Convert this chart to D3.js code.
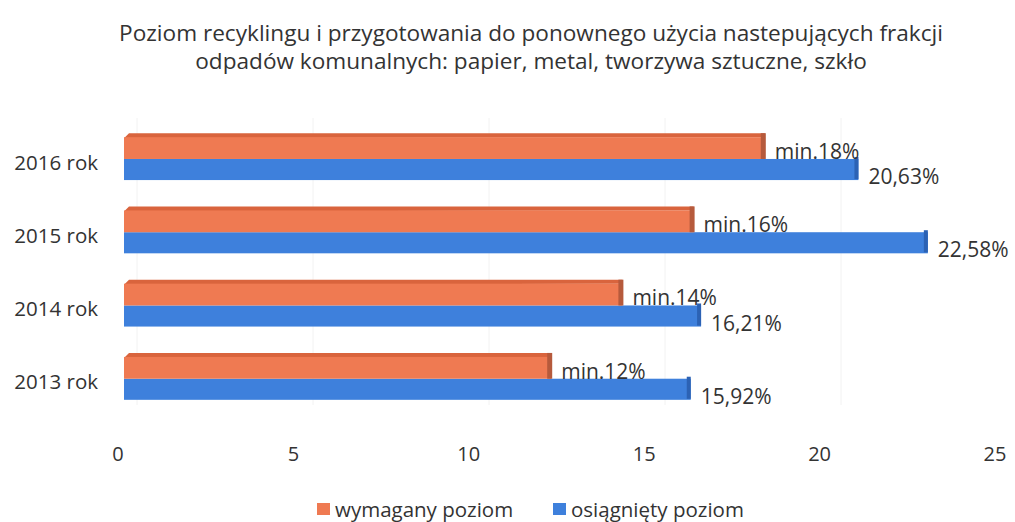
<!DOCTYPE html>
<html><head><meta charset="utf-8">
<script src="https://cdn.jsdelivr.net/npm/d3@7"></script>
<style>body{margin:0;background:#fff}svg{display:block}text{font-family:"Open Sans",Lato,sans-serif;fill:#333}</style>
</head><body>
<svg id="c" width="1015" height="522"></svg>
<script>
const categories = ["2016 rok","2015 rok","2014 rok","2013 rok"];
const required = [18, 16, 14, 12];
const achieved = [20.63, 22.58, 16.21, 15.92];
const requiredLabels = ["min.18%","min.16%","min.14%","min.12%"];
const achievedLabels = ["20,63%","22,58%","16,21%","15,92%"];
const ticks = [0,5,10,15,20,25];
const seriesNames = ["wymagany poziom","osiągnięty poziom"];
const titleLines = ["Poziom recyklingu i przygotowania do ponownego użycia nastepujących frakcji","odpadów komunalnych: papier, metal, tworzywa sztuczne, szkło"];

const colors = {req:"#EF7A52", reqTop:"#D9643D", reqEnd:"#B65A3C", ach:"#3E80DC", achEnd:"#2C62B4"};
const svg = d3.select("#c");

const xBar = d3.scaleLinear().domain([0,25]).range([124,1014]);
const xTick = d3.scaleLinear().domain([0,25]).range([118,995]);
const xGrid = d3.scaleLinear().domain([0,25]).range([137,1017]);
const y = d3.scaleBand().domain(categories).range([120,413]).paddingInner(0.36).paddingOuter(0.18);
const bw = y.bandwidth();
const hReq = bw*0.55;

// title
svg.append("g").selectAll("text").data(titleLines).join("text")
  .attr("x",531).attr("y",(d,i)=>41+i*28).attr("text-anchor","middle")
  .style("font-size","22.6px").text(d=>d);

// grid
svg.append("g").selectAll("line").data(ticks).join("line")
  .attr("x1",d=>xGrid(d)).attr("x2",d=>xGrid(d)).attr("y1",118).attr("y2",405)
  .attr("stroke","#f2f2f2").attr("stroke-width",1);

const data = categories.map((c,i)=>({c, r:required[i], a:achieved[i], rl:requiredLabels[i], al:achievedLabels[i]}));
const g = svg.append("g").selectAll("g").data(data).join("g");

// achieved (blue)
g.append("rect").attr("x",xBar(0)).attr("y",d=>y(d.c)+hReq).attr("width",d=>xBar(d.a)-xBar(0)).attr("height",bw-hReq).attr("fill",colors.ach);
g.append("rect").attr("x",d=>xBar(d.a)-4).attr("y",d=>y(d.c)+hReq-2).attr("width",4).attr("height",bw-hReq+1).attr("fill",colors.achEnd);
// required (orange)
g.append("path").attr("d",d=>{const t=y(d.c), x0=xBar(0), x1=xBar(d.r); return `M${x0},${t+5}L${x0+5},${t}L${x1},${t}L${x1},${t+4}L${x0},${t+5}Z`;}).attr("fill",colors.reqTop);
g.append("rect").attr("x",xBar(0)).attr("y",d=>y(d.c)+4).attr("width",d=>xBar(d.r)-xBar(0)).attr("height",hReq-4).attr("fill",colors.req);
g.append("rect").attr("x",d=>xBar(d.r)-4).attr("y",d=>y(d.c)).attr("width",5).attr("height",hReq).attr("fill",colors.reqEnd);

// labels
g.append("text").attr("x",d=>xBar(d.r)+10).attr("y",d=>y(d.c)+hReq).style("font-size","21px").text(d=>d.rl);
g.append("text").attr("x",d=>xBar(d.a)+10).attr("y",d=>y(d.c)+bw+4).style("font-size","21px").text(d=>d.al);

// category labels
svg.append("g").selectAll("text").data(categories).join("text")
  .attr("x",98).attr("y",d=>y(d)+bw/2+13).attr("text-anchor","end").style("font-size","20.5px").text(d=>d);

// tick labels
svg.append("g").selectAll("text").data(ticks).join("text")
  .attr("x",d=>xTick(d)).attr("y",461).attr("text-anchor","middle").style("font-size","20px").text(d=>d);

// legend
const leg = svg.append("g");
const legX = [317, 553];
const legC = [colors.req, colors.ach];
seriesNames.forEach((n,i)=>{
  leg.append("rect").attr("x",legX[i]).attr("y",503).attr("width",13).attr("height",12).attr("fill",legC[i]);
  leg.append("text").attr("x",legX[i]+18).attr("y",517).style("font-size","20.5px").text(n);
});
</script>
</body></html>
